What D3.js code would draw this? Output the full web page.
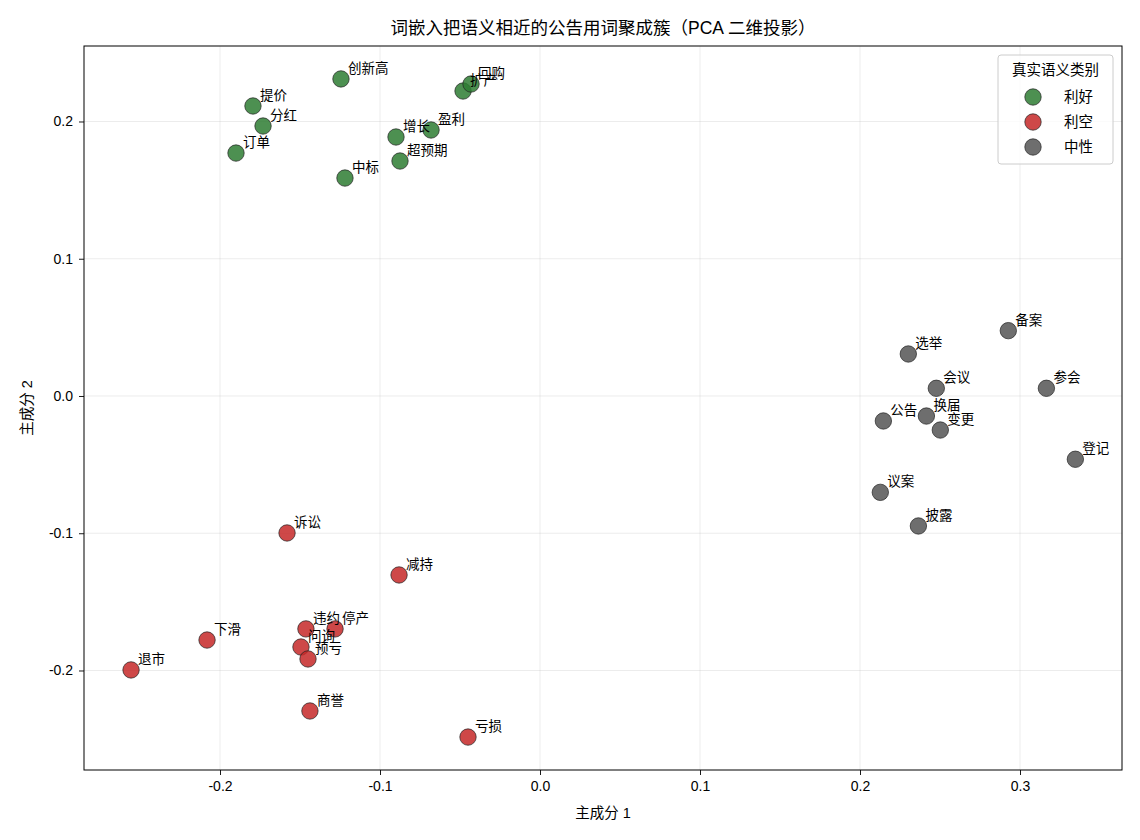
<!DOCTYPE html>
<html>
<head>
<meta charset="utf-8">
<title>词嵌入 PCA</title>
<script src="https://d3js.org/d3.v7.min.js"></script>
<style>
  body { margin: 0; background: #fff; }
  text { font-family: "Liberation Sans", "Noto Sans CJK SC", sans-serif; fill: #000; }
</style>
</head>
<body>
<div id="chart"></div>
<script>
// categories and their words / PCA coordinates
const categories = ["利好", "利空", "中性"];
const catColors = ["#2e7d32", "#c62828", "#555555"];

const goodWords = ["创新高", "提价", "分红", "订单", "中标", "增长", "超预期", "盈利", "扩产", "回购"];
const goodX = [-0.1244, -0.1794, -0.1731, -0.1900, -0.1219, -0.0900, -0.0875, -0.0681, -0.0481, -0.0431];
const goodY = [0.2310, 0.2113, 0.1967, 0.1770, 0.1588, 0.1887, 0.1712, 0.1938, 0.2222, 0.2273];

const badWords = ["诉讼", "减持", "下滑", "退市", "违约", "停产", "问询", "预亏", "商誉", "亏损"];
const badX = [-0.1581, -0.0881, -0.2081, -0.2556, -0.1463, -0.1281, -0.1494, -0.1450, -0.1438, -0.0450];
const badY = [-0.0998, -0.1304, -0.1778, -0.1996, -0.1697, -0.1697, -0.1829, -0.1916, -0.2295, -0.2485];

const neutralWords = ["备案", "选举", "会议", "参会", "公告", "换届", "变更", "登记", "议案", "披露"];
const neutralX = [0.2927, 0.2302, 0.2477, 0.3165, 0.2146, 0.2415, 0.2502, 0.3346, 0.2127, 0.2365];
const neutralY = [0.0476, 0.0306, 0.0056, 0.0056, -0.0182, -0.0146, -0.0248, -0.0461, -0.0702, -0.0947];

const xTicks = [-0.2, -0.1, 0.0, 0.1, 0.2, 0.3];
const yTicks = [-0.2, -0.1, 0.0, 0.1, 0.2];

const W = 1140, H = 840;
const m = {left: 84, right: 18, top: 46, bottom: 70};

const svg = d3.select("#chart").append("svg")
  .attr("width", W).attr("height", H);

const x = d3.scaleLinear().domain([-0.285, 0.36375]).range([m.left, W - m.right]);
const y = d3.scaleLinear().domain([-0.2725, 0.255]).range([H - m.bottom, m.top]);

// grid
svg.append("g").selectAll("line").data(xTicks).join("line")
  .attr("x1", d => x(d)).attr("x2", d => x(d))
  .attr("y1", m.top).attr("y2", H - m.bottom)
  .attr("stroke", "#b0b0b0").attr("stroke-opacity", 0.3).attr("stroke-width", 0.8);
svg.append("g").selectAll("line").data(yTicks).join("line")
  .attr("x1", m.left).attr("x2", W - m.right)
  .attr("y1", d => y(d)).attr("y2", d => y(d))
  .attr("stroke", "#b0b0b0").attr("stroke-opacity", 0.3).attr("stroke-width", 0.8);

// axes (plain hyphen minus like the reference)
const fmt = d => d3.format(".1f")(d).replace("\u2212", "-");
const xAxis = svg.append("g").attr("transform", `translate(0,${H - m.bottom})`)
  .call(d3.axisBottom(x).tickValues(xTicks).tickFormat(fmt).tickSize(5).tickPadding(6));
const yAxis = svg.append("g").attr("transform", `translate(${m.left},0)`)
  .call(d3.axisLeft(y).tickValues(yTicks).tickFormat(fmt).tickSize(5).tickPadding(6));
[xAxis, yAxis].forEach(a => {
  a.select(".domain").remove();
  a.selectAll("text").attr("font-size", 14).attr("font-family", "Liberation Sans, Noto Sans CJK SC");
  a.selectAll("line").attr("stroke", "#000").attr("stroke-width", 0.9);
});

// frame
svg.append("rect")
  .attr("x", m.left).attr("y", m.top)
  .attr("width", W - m.left - m.right).attr("height", H - m.top - m.bottom)
  .attr("fill", "none").attr("stroke", "#000").attr("stroke-width", 1);

// points + labels
const groups = [
  {words: goodWords, xs: goodX, ys: goodY, c: 0},
  {words: badWords, xs: badX, ys: badY, c: 1},
  {words: neutralWords, xs: neutralX, ys: neutralY, c: 2}
];
groups.forEach(g => {
  const pts = g.words.map((w, i) => ({w, x: g.xs[i], y: g.ys[i]}));
  svg.append("g").selectAll("circle").data(pts).join("circle")
    .attr("cx", d => x(d.x)).attr("cy", d => y(d.y)).attr("r", 8.2)
    .attr("fill", catColors[g.c]).attr("fill-opacity", 0.85)
    .attr("stroke", "#222").attr("stroke-width", 0.7);
});
groups.forEach(g => {
  svg.append("g").selectAll("text").data(g.words.map((w, i) => ({w, x: g.xs[i], y: g.ys[i]}))).join("text")
    .attr("x", d => x(d.x) + 7).attr("y", d => y(d.y) - 6)
    .attr("font-size", 13.5)
    .attr("font-family", "Noto Sans CJK SC")
    .text(d => d.w);
});

// title and axis labels
svg.append("text").attr("x", (m.left + W - m.right) / 2).attr("y", 34)
  .attr("text-anchor", "middle").attr("font-size", 17.5).text("词嵌入把语义相近的公告用词聚成簇（PCA 二维投影）");
svg.append("text").attr("x", (m.left + W - m.right) / 2).attr("y", 818)
  .attr("text-anchor", "middle").attr("font-size", 14.5).text("主成分 1");
svg.append("text")
  .attr("transform", `translate(32,${(m.top + H - m.bottom) / 2}) rotate(-90)`)
  .attr("text-anchor", "middle").attr("font-size", 14.5).text("主成分 2");

// legend
const lg = svg.append("g").attr("transform", "translate(998,55)");
lg.append("rect").attr("width", 115).attr("height", 109).attr("rx", 3)
  .attr("fill", "#fff").attr("fill-opacity", 0.8).attr("stroke", "#ccc");
lg.append("text").attr("x", 57.5).attr("y", 20).attr("text-anchor", "middle")
  .attr("font-size", 14.5).text("真实语义类别");
const items = lg.selectAll("g.item").data(categories).join("g").attr("class", "item")
  .attr("transform", (d, i) => `translate(0,${42 + i * 25})`);
items.append("circle").attr("cx", 35).attr("cy", 0).attr("r", 8.2)
  .attr("fill", (d, i) => catColors[i]).attr("fill-opacity", 0.85)
  .attr("stroke", "#222").attr("stroke-width", 0.7);
items.append("text").attr("x", 66).attr("y", 5).attr("font-size", 14.5).text(d => d);
</script>
</body>
</html>
